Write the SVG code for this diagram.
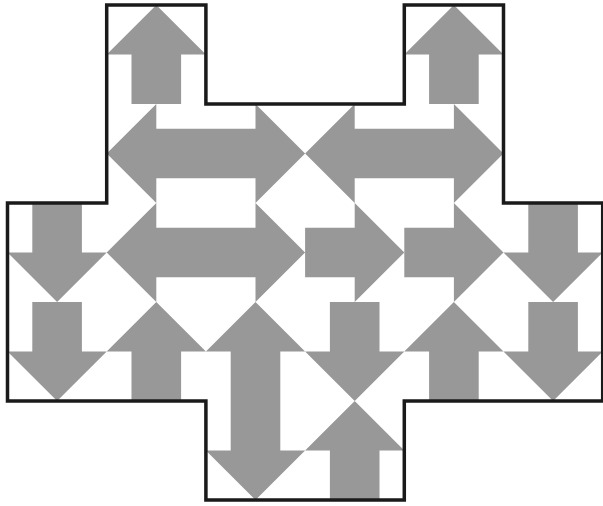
<svg xmlns="http://www.w3.org/2000/svg" xmlns:xlink="http://www.w3.org/1999/xlink" width="603" height="506" viewBox="0 0 603 506">
<style>
.a{fill:#989898;}
.outline{fill:none;stroke:#1a1a1a;stroke-width:3.5;stroke-linejoin:miter;vector-effect:non-scaling-stroke;}
</style>
<defs>
<path id="up" class="a" d="M50,0 L100,50 L75,50 L75,100 L25,100 L25,50 L0,50 Z"/>
<path id="down" class="a" d="M25,0 H75 V50 H100 L50,100 L0,50 H25 Z"/>
<path id="right" class="a" d="M0,25 H50 V0 L100,50 L50,100 V75 H0 Z"/>
<path id="dh" class="a" d="M0,50 L50,0 V25 H150 V0 L200,50 L150,100 V75 H50 V100 Z"/>
<path id="dv" class="a" d="M50,0 L100,50 H75 V150 H100 L50,200 L0,150 H25 V50 H0 Z"/>
</defs>
<rect width="603" height="506" fill="#ffffff"/>
<g transform="translate(7.5,5) scale(0.992,0.99)">
<g id="arrows">
<use xlink:href="#up" x="100" y="0"/>
<use xlink:href="#up" x="400" y="0"/>
<use xlink:href="#dh" x="100" y="100"/>
<use xlink:href="#dh" x="300" y="100"/>
<use xlink:href="#down" x="0" y="200"/>
<use xlink:href="#dh" x="100" y="200"/>
<use xlink:href="#right" x="300" y="200"/>
<use xlink:href="#right" x="400" y="200"/>
<use xlink:href="#down" x="500" y="200"/>
<use xlink:href="#down" x="0" y="300"/>
<use xlink:href="#up" x="100" y="300"/>
<use xlink:href="#dv" x="200" y="300"/>
<use xlink:href="#down" x="300" y="300"/>
<use xlink:href="#up" x="400" y="300"/>
<use xlink:href="#down" x="500" y="300"/>
<use xlink:href="#up" x="300" y="400"/>
</g>
<g id="outline">
<path class="outline" d="M100,0 H200 V100 H400 V0 H500 V200 H600 V400 H400 V500 H200 V400 H0 V200 H100 Z"/>
</g>
</g>
</svg>
